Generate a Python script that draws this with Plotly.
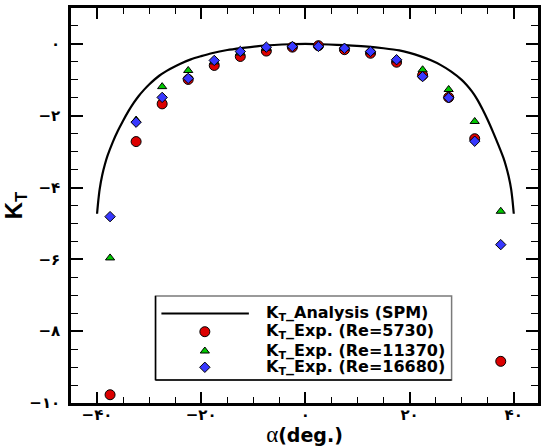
import plotly.graph_objects as go

# Analytical thrust-coefficient curve (SPM)
alpha_spm = [-40, -39.75, -39.5, -39, -38.5, -38, -37, -36, -35, -34, -33, -32, -31, -30,
             -28, -26, -24, -22, -20, -18, -15, -12, -9, -6, -3, 0,
             3, 6, 9, 12, 15, 18, 20, 22, 24, 26, 28, 30, 31, 32, 33, 34, 35, 36, 37,
             38, 38.5, 39, 39.5, 39.75, 40]
kt_spm = [-4.73, -4.35, -4.05, -3.65, -3.36, -3.12, -2.74, -2.42, -2.14, -1.88, -1.65,
          -1.45, -1.28, -1.13, -0.88, -0.70, -0.55, -0.43, -0.34, -0.26, -0.17, -0.11,
          -0.06, -0.03, -0.01, 0.0,
          -0.01, -0.025, -0.045, -0.075, -0.12, -0.18, -0.25, -0.34, -0.45, -0.59,
          -0.77, -1.0, -1.15, -1.33, -1.55, -1.82, -2.12, -2.45, -2.8, -3.17, -3.4,
          -3.68, -4.05, -4.35, -4.73]

# Experimental measurements
alpha_exp = [-37.5, -32.5, -27.5, -22.5, -17.5, -12.5, -7.5, -2.5,
             2.5, 7.5, 12.5, 17.5, 22.5, 27.5, 32.5, 37.5]
kt_re5730 = [-9.77, -2.72, -1.67, -0.99, -0.60, -0.35, -0.20, -0.09,
             -0.05, -0.16, -0.26, -0.51, -0.87, -1.49, -2.64, -8.84]
kt_re11370 = [-5.96, -2.12, -1.19, -0.74, -0.50, -0.25, -0.12, -0.06,
              -0.05, -0.12, -0.22, -0.45, -0.72, -1.27, -2.16, -4.66]
kt_re16680 = [-4.81, -2.18, -1.49, -0.96, -0.46, -0.21, -0.09, -0.075,
              -0.07, -0.12, -0.21, -0.44, -0.91, -1.50, -2.71, -5.59]

x_ticks = [-40, -20, 0, 20, 40]
x_ticktext = ["−۴۰", "−۲۰", "۰", "۲۰", "۴۰"]
y_ticks = [0, -2, -4, -6, -8, -10]
y_ticktext = ["۰", "−۲", "−۴", "−۶", "−۸", "−۱۰"]

legend_labels = ["K<sub>T</sub>_Analysis (SPM)", "K<sub>T</sub>_Exp. (Re=5730)",
                 "K<sub>T</sub>_Exp. (Re=11370)", "K<sub>T</sub>_Exp. (Re=16680)"]

RED, GREEN, BLUE = "#dc0000", "#00c800", "#3838ff"
marker_styles = [
    dict(symbol="circle", size=10, color=RED, line=dict(color="black", width=1)),
    dict(symbol="triangle-up", size=8, color=GREEN, line=dict(color="black", width=1)),
    dict(symbol="diamond", size=8, color=BLUE, line=dict(color="black", width=1)),
]

fig = go.Figure()
fig.add_trace(go.Scatter(x=alpha_spm, y=kt_spm, mode="lines",
                         line=dict(color="black", width=2.2, shape="spline", smoothing=0.8)))
for ys, ms in zip([kt_re5730, kt_re11370, kt_re16680], marker_styles):
    fig.add_trace(go.Scatter(x=alpha_exp, y=ys, mode="markers", marker=ms))

# Legend box drawn in a unit overlay frame
box_x0, box_x1, box_y0, box_y1 = 0.181, 0.815, 0.058, 0.271
row_y = [0.2266, 0.1805, 0.1316, 0.0904]
sym_x = 0.2866
text_x = 0.413

for yy, ms in zip(row_y[1:], marker_styles):
    fig.add_trace(go.Scatter(x=[sym_x], y=[yy], mode="markers", marker=ms,
                             xaxis="x2", yaxis="y2", cliponaxis=False))

fig.add_shape(type="rect", xref="paper", yref="paper", x0=box_x0, x1=box_x1,
              y0=box_y0, y1=box_y1, line=dict(color="#7a7a7a", width=1.5),
              fillcolor="white", layer="below")
fig.add_shape(type="line", xref="paper", yref="paper", x0=box_x0, x1=box_x0,
              y0=box_y0, y1=box_y1, line=dict(color="black", width=1.5))
fig.add_shape(type="line", xref="paper", yref="paper", x0=box_x0, x1=box_x1,
              y0=box_y0, y1=box_y0, line=dict(color="black", width=1.5))
fig.add_shape(type="line", xref="paper", yref="paper", x0=0.1936, x1=0.3809,
              y0=row_y[0], y1=row_y[0], line=dict(color="black", width=2.2))
for yy, lab in zip(row_y, legend_labels):
    fig.add_annotation(x=text_x, y=yy, xref="paper", yref="paper", text="<b>" + lab + "</b>",
                       showarrow=False, xanchor="left", yanchor="middle",
                       font=dict(family="DejaVu Sans", size=16, color="black"))

axis_common = dict(showline=True, linecolor="black", linewidth=2.5, mirror="ticks",
                   ticks="inside", tickwidth=2, tickcolor="black", showgrid=False,
                   zeroline=False,
                   tickfont=dict(family="DejaVu Sans", size=15, color="black", weight="bold"))

fig.update_layout(
    width=541, height=447,
    margin=dict(l=71, r=0, t=8, b=44),
    paper_bgcolor="white", plot_bgcolor="white",
    showlegend=False,
    xaxis=dict(range=[-45, 44.65], tickmode="array", tickvals=x_ticks, ticktext=x_ticktext,
               ticklen=11, ticklabelstandoff=-4,
               minor=dict(ticks="inside", ticklen=6, tickwidth=1, tickcolor="black",
                          tickmode="linear", tick0=0, dtick=5, showgrid=False),
               title=dict(text="<span style='font-family:Liberation Serif;font-weight:normal;font-size:23px'>α</span><b>(deg.)</b>",
                          font=dict(family="DejaVu Sans", size=19, color="black"), standoff=2),
               **axis_common),
    yaxis=dict(range=[-10, 1], tickmode="array", tickvals=y_ticks, ticktext=y_ticktext,
               ticklen=12, ticklabelstandoff=5,
               minor=dict(ticks="inside", ticklen=7, tickwidth=1, tickcolor="black",
                          tickmode="linear", tick0=0, dtick=0.5, showgrid=False),
               title=dict(text="<b>K<sub>T</sub></b>",
                          font=dict(family="Liberation Sans", size=24, color="black"), standoff=3),
               **axis_common),
    xaxis2=dict(range=[0, 1], overlaying="x", visible=False, fixedrange=True),
    yaxis2=dict(range=[0, 1], overlaying="y", visible=False, fixedrange=True),
)

fig.write_html("out.html")
